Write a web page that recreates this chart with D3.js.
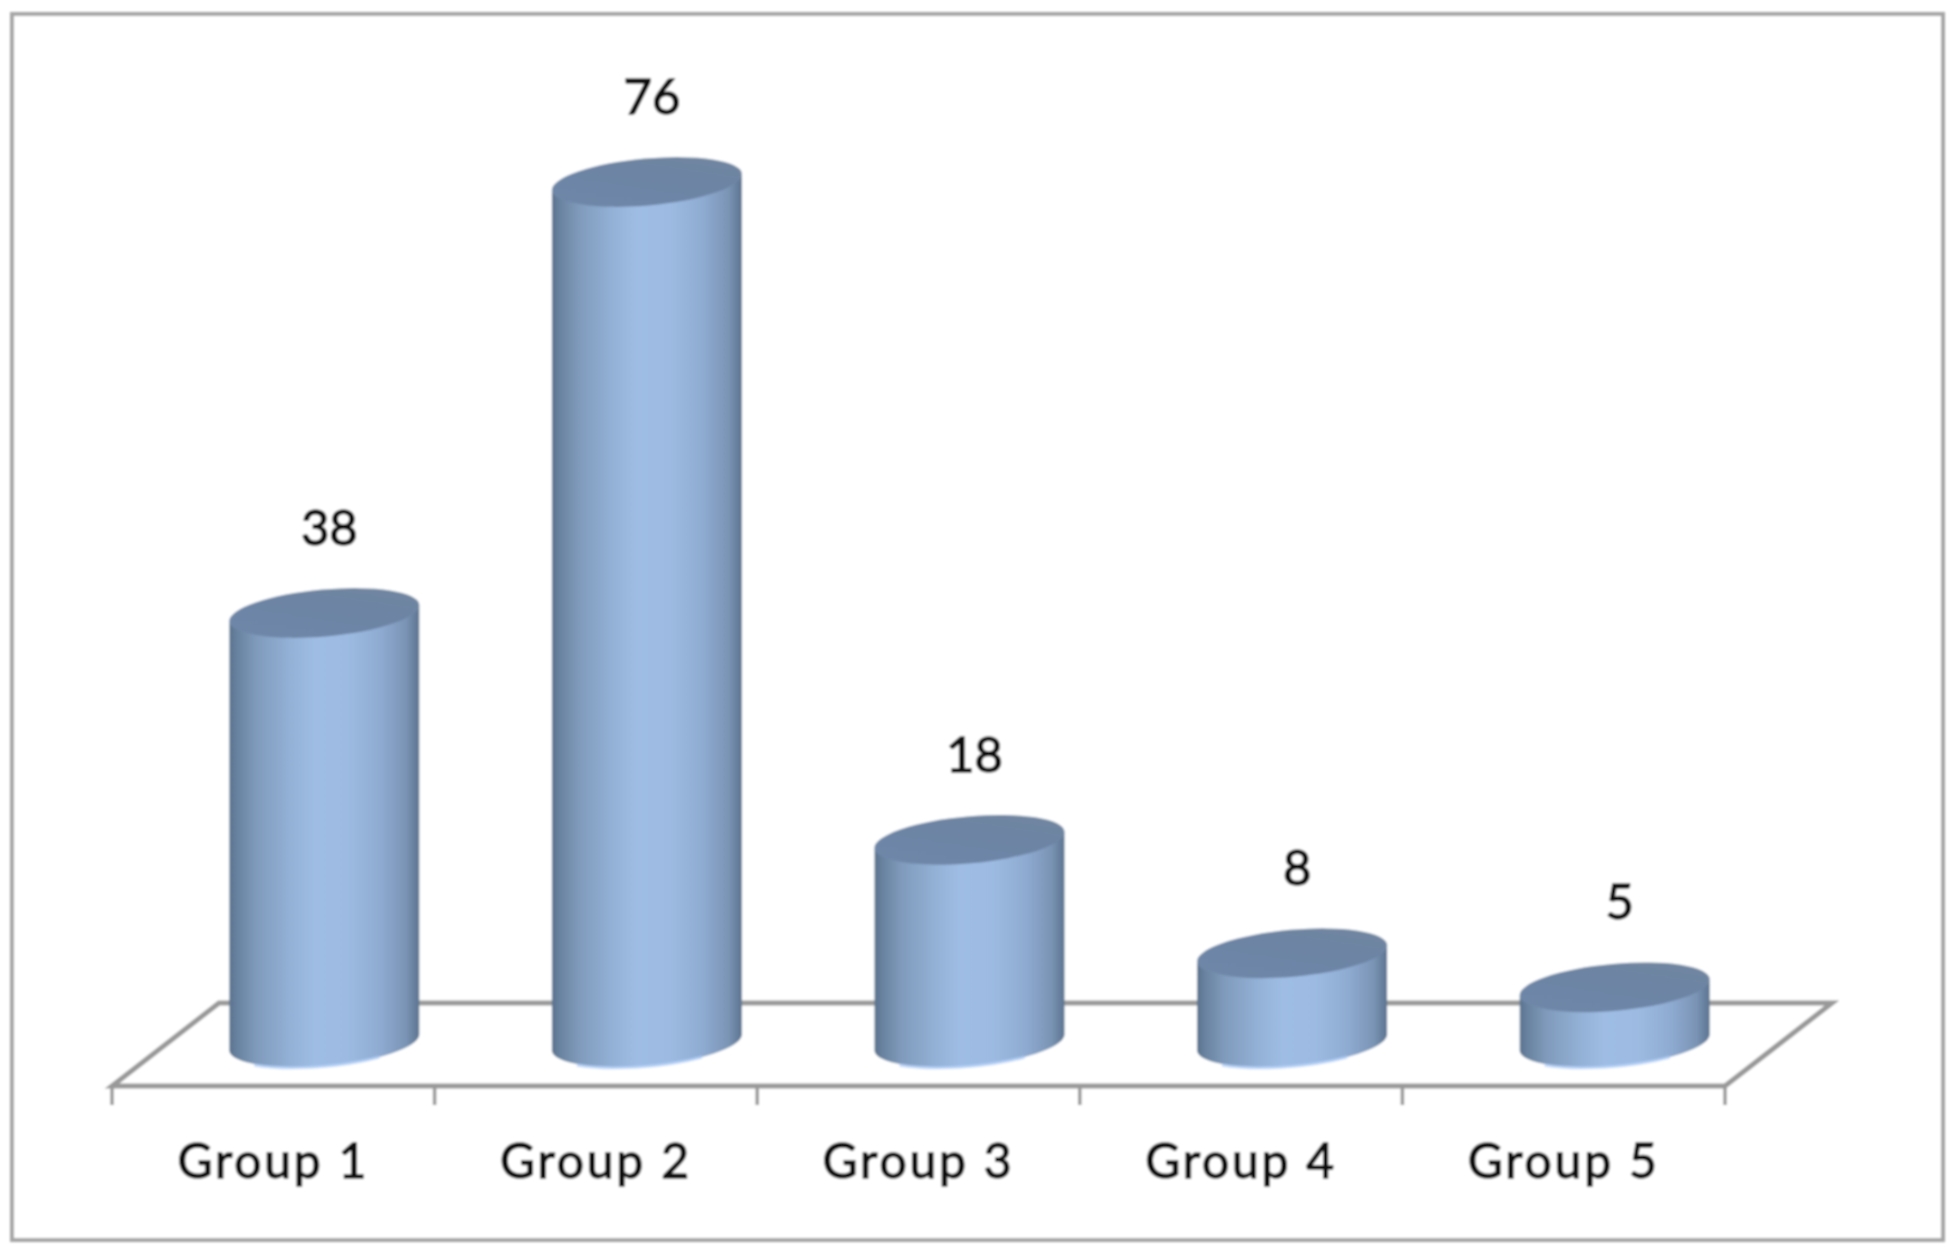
<!DOCTYPE html>
<html><head><meta charset="utf-8">
<script src="https://cdn.jsdelivr.net/npm/d3@7"></script>
<style>html,body{margin:0;background:#fff}svg{display:block}text{font-family:Lato,"Open Sans",sans-serif;fill:#111}</style>
</head><body><svg id="c" width="1957" height="1253"></svg>
<script>
const categories = ["Group 1","Group 2","Group 3","Group 4","Group 5"];
const values = [38,76,18,8,5];

const svg = d3.select("#c");
const defs = svg.append("defs");
const blur = defs.append("filter").attr("id","soft").attr("x","-2%").attr("y","-2%").attr("width","104%").attr("height","104%");
blur.append("feGaussianBlur").attr("stdDeviation",1.3);

const body = defs.append("linearGradient").attr("id","body");
[[0,"#5a728e"],[.04,"#68829f"],[.14,"#7f9abb"],[.32,"#93b1d6"],[.45,"#9fbde4"],[.62,"#9dbbe2"],[.8,"#8eaad0"],[.93,"#7a94b5"],[1,"#5c7490"]]
  .forEach(([o,c])=>body.append("stop").attr("offset",o).attr("stop-color",c));
const top_ = defs.append("linearGradient").attr("id","top").attr("x1",0).attr("x2",1).attr("y1",1).attr("y2",0);
[[0,"#7390b5"],[.18,"#6e87a8"],[.6,"#6d84a4"],[1,"#71879f"]]
  .forEach(([o,c])=>top_.append("stop").attr("offset",o).attr("stop-color",c));

const x = d3.scaleBand().domain(categories).range([112,1725]).padding(0);
const y = d3.scaleLinear().domain([0,76]).range([1044,182]);

const chart = svg.append("g").attr("filter","url(#soft)");
const grey = "#999999";

// outer frame
chart.append("rect").attr("x",12).attr("y",14).attr("width",1931).attr("height",1226)
  .attr("fill","#fff").attr("stroke","#a6a6a6").attr("stroke-width",4);

// floor
const frontY = 1086, backY = 1003, depth = 107;
const [x0,x1] = x.range();
chart.append("path")
  .attr("d",d3.line()([[x0,frontY],[x0+depth,backY],[x1+depth,backY],[x1,frontY]])+"Z")
  .attr("fill","none").attr("stroke",grey).attr("stroke-width",5).attr("stroke-linejoin","miter");

// axis with ticks at band edges
const axis = chart.append("g").attr("transform",`translate(0,${frontY})`)
  .call(d3.axisBottom(x).tickSize(0).tickPadding(58));
axis.select(".domain").remove();
axis.selectAll("text").attr("font-size",48).attr("letter-spacing",2.8).attr("fill","#111")
  .attr("stroke","#111").attr("stroke-width",1.4)
  .style("font-family",'Lato,"Open Sans",sans-serif');
chart.append("g").selectAll("line").data(categories.map(c=>x(c)).concat(x1)).join("line")
  .attr("x1",d=>d).attr("x2",d=>d).attr("y1",frontY).attr("y2",frontY+19)
  .attr("stroke",grey).attr("stroke-width",3.5);

// cylinders
const shift = 51, halfW = 95, skew = 8, a = 95.4, b = 23.5, tilt = -5.1;
const cyl = chart.append("g").selectAll("g").data(categories.map((c,i)=>({c,v:values[i]}))).join("g");
const cx = d=>x(d.c)+x.bandwidth()/2+shift;
const base = y(0)-1;
cyl.append("path").attr("fill","url(#body)").attr("d",d=>{
  const X=cx(d),T=y(d.v);
  return `M${X-halfW},${T+skew}L${X-halfW},${base+skew}A${a},${b} ${tilt} 0 0 ${X+halfW},${base-skew}L${X+halfW},${T-skew}A${a},${b} ${tilt} 0 1 ${X-halfW},${T+skew}Z`;
});
cyl.append("path").attr("fill","none").attr("stroke","#a9c9f6").attr("stroke-width",3).attr("opacity",.75)
  .attr("d",d=>{const X=cx(d);return `M${X-70},${base+22}A${a},${b} ${tilt} 0 0 ${X+55},${base+14}`;});
cyl.append("ellipse").attr("fill","url(#top)")
  .attr("rx",a).attr("ry",b)
  .attr("transform",d=>`translate(${cx(d)},${y(d.v)}) rotate(${tilt})`);

// value labels
chart.append("g").selectAll("text").data(categories.map((c,i)=>({c,v:values[i]}))).join("text")
  .attr("x",d=>cx(d)+5).attr("y",d=>y(d.v)-68)
  .attr("text-anchor","middle").attr("font-size",49)
  .attr("stroke","#111").attr("stroke-width",1.4)
  .text(d=>d.v);
</script></body></html>
